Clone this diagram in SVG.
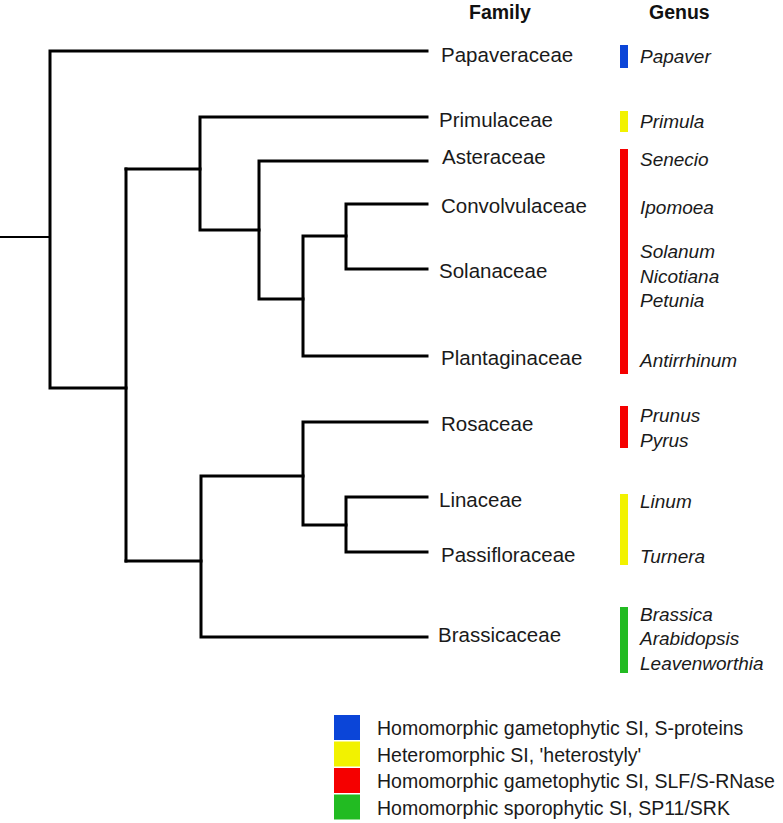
<svg xmlns="http://www.w3.org/2000/svg" width="783" height="823" viewBox="0 0 783 823">
<style>
.tree{fill:none;stroke:#000;stroke-width:3;stroke-linecap:square;stroke-linejoin:miter}
.stub{fill:none;stroke:#000;stroke-width:2}
.hdr{font-family:"Liberation Sans",Arial,sans-serif;font-weight:bold;font-size:19.5px;fill:#111}
.fam{font-family:"Liberation Sans",Arial,sans-serif;font-size:20.5px;fill:#1a1a1a}
.gen{font-family:"Liberation Sans",Arial,sans-serif;font-style:italic;font-size:19px;fill:#1a1a1a}
.leg{font-family:"Liberation Sans",Arial,sans-serif;font-size:19.5px;fill:#1a1a1a}
.blue{fill:#0b45d8}.yellow{fill:#f2f200}.red{fill:#f50000}.green{fill:#22bb22}
</style>
<rect width="783" height="823" fill="#fff"/>
<g id="connectors">
<line class="stub" x1="0" y1="237" x2="50" y2="237"/>
<path class="tree" d="M427,51 H50 V388 H126"/>
<path class="tree" d="M126,169 V561"/>
<path class="tree" d="M126,169 H200"/>
<path class="tree" d="M427,117 H200 V230 H259"/>
<path class="tree" d="M427,161 H259 V299 H303"/>
<path class="tree" d="M427,356 H303 V236 H346"/>
<path class="tree" d="M427,204 H346 V269 H427"/>
<path class="tree" d="M126,561 H201"/>
<path class="tree" d="M427,637 H201 V476 H303"/>
<path class="tree" d="M427,422 H303 V525 H346"/>
<path class="tree" d="M427,497 H346 V552 H427"/>
</g>
<g id="headers">
<text class="hdr" x="469" y="19">Family</text>
<text class="hdr" x="649" y="19">Genus</text>
</g>
<g id="papaveraceae">
<text class="fam" x="441" y="61.5">Papaveraceae</text>
<rect class="blue" x="620" y="45" width="8" height="23"/>
<text class="gen" x="640" y="63">Papaver</text>
</g>
<g id="primulaceae">
<text class="fam" x="439" y="126.5">Primulaceae</text>
<rect class="yellow" x="620" y="111" width="8" height="21"/>
<text class="gen" x="640" y="128">Primula</text>
</g>
<g id="asteraceae">
<text class="fam" x="442" y="164">Asteraceae</text>
<text class="gen" x="640" y="166">Senecio</text>
</g>
<g id="convolvulaceae">
<text class="fam" x="441" y="213">Convolvulaceae</text>
<text class="gen" x="640" y="214">Ipomoea</text>
</g>
<g id="solanaceae">
<text class="fam" x="439" y="278">Solanaceae</text>
<text class="gen" x="640" y="258">Solanum</text>
<text class="gen" x="640" y="283">Nicotiana</text>
<text class="gen" x="640" y="307">Petunia</text>
</g>
<g id="plantaginaceae">
<text class="fam" x="441" y="365">Plantaginaceae</text>
<text class="gen" x="640" y="367">Antirrhinum</text>
</g>
<rect id="red-bar-1" class="red" x="620" y="149" width="8" height="225"/>
<g id="rosaceae">
<text class="fam" x="441" y="431">Rosaceae</text>
<rect class="red" x="620" y="406" width="8" height="42"/>
<text class="gen" x="640" y="422">Prunus</text>
<text class="gen" x="640" y="447">Pyrus</text>
</g>
<g id="linaceae">
<text class="fam" x="439" y="507">Linaceae</text>
<text class="gen" x="640" y="508">Linum</text>
</g>
<rect id="yellow-bar-2" class="yellow" x="620" y="494" width="8" height="71"/>
<g id="passifloraceae">
<text class="fam" x="441" y="562">Passifloraceae</text>
<text class="gen" x="640" y="563">Turnera</text>
</g>
<g id="brassicaceae">
<text class="fam" x="438" y="642">Brassicaceae</text>
<rect class="green" x="620" y="607" width="8" height="66"/>
<text class="gen" x="640" y="621">Brassica</text>
<text class="gen" x="640" y="645">Arabidopsis</text>
<text class="gen" x="640" y="670">Leavenworthia</text>
</g>
<g id="legend">
<rect class="blue" x="334" y="715" width="26" height="25"/>
<rect class="yellow" x="334" y="741.5" width="26" height="25"/>
<rect class="red" x="334" y="768" width="26" height="25"/>
<rect class="green" x="334" y="794.5" width="26" height="25"/>
<text class="leg" x="377" y="735">Homomorphic gametophytic SI, S-proteins</text>
<text class="leg" x="377" y="762">Heteromorphic SI, 'heterostyly'</text>
<text class="leg" x="377" y="788">Homomorphic gametophytic SI, SLF/S-RNase</text>
<text class="leg" x="377" y="815">Homomorphic sporophytic SI, SP11/SRK</text>
</g>
</svg>
